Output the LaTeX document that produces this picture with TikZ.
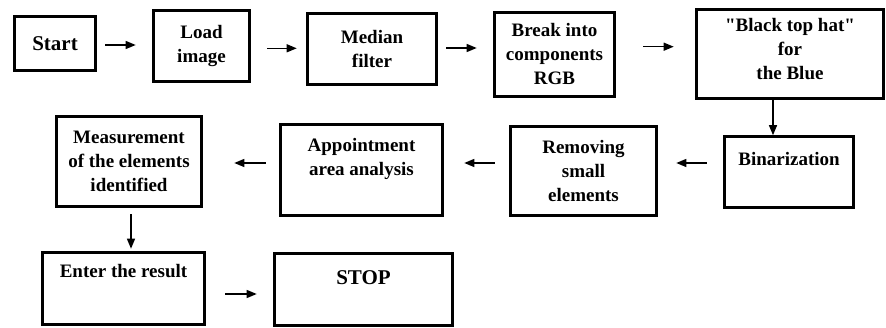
\documentclass[tikz,border=0pt]{standalone}
\usepackage{fontspec}
\setmainfont{Liberation Serif}
\usetikzlibrary {arrows.meta, positioning}
\tikzset{
    >={Triangle[length=10pt, width=8pt]},
    box/.style={draw, line width=2.6pt, align=center, inner sep=0pt,
        font=\bfseries\fontsize{19}{24}\selectfont},
    bigbox/.style={box, font=\bfseries\fontsize{21}{25}\selectfont},
    flow/.style={->, line width=1.3pt}
}

\begin{document}
\begin{tikzpicture}[x=1pt, y=-1pt]
    \useasboundingbox (0, 0) rectangle (886, 328);
    % first row
    \node[bigbox, minimum width=81, minimum height=54] (start) at (55, 43.5) {Start};
    \node[box, minimum width=96, minimum height=71] (load) at (201.5, 46) {Load\\image};
    \node[box, minimum width=129, minimum height=71] (median) at (372, 49) {Median\\filter};
    \node[box, minimum width=120, minimum height=84] (rgb) at (554.5, 54.5) {Break into\\components\\RGB};
    \node[box, minimum width=187, minimum height=89, text depth=10pt] (hat) at (790, 54)
        {\textquotedbl Black top hat\textquotedbl\\for\\the Blue};
    % second row
    \node[box, minimum width=129, minimum height=71, text depth=27pt] (bin) at (789, 172) {Binarization};
    \node[box, minimum width=146, minimum height=89] (small) at (583.5, 171) {Removing\\small\\elements};
    \node[box, minimum width=162, minimum height=91, text depth=27pt] (area) at (361.5, 170)
        {Appointment\\area analysis};
    \node[box, minimum width=145, minimum height=90] (measure) at (129, 161.5)
        {Measurement\\of the elements\\identified};
    % third row
    \node[box, minimum width=162, minimum height=72, text depth=36pt] (result) at (123.5, 288.5) {Enter the result};
    \node[bigbox, minimum width=178, minimum height=72, text depth=24pt] (stop) at (363.5, 289.5) {STOP};
    % arrows
    \draw[flow] ([xshift=8.5, yshift=-1.5]start.east) -- ([xshift=-16.5, yshift=-1.5]start.east -| load.west);
    \draw[flow] ([xshift=16.5, yshift=-2.3]load.east) -- ([xshift=-9.5, yshift=-2.3]load.east -| median.west);
    \draw[flow] ([xshift=8.5, yshift=1]median.east) -- ([xshift=-16.5, yshift=1]median.east -| rgb.west);
    \draw[flow] ([xshift=27.5, yshift=7.8]rgb.east) -- ([xshift=-21.5, yshift=7.8]rgb.east -| hat.west);
    \draw[flow] ([xshift=-17]hat.south) -- ([xshift=-16]bin.north);
    \draw[flow] ([xshift=-16.5, yshift=9]bin.west) -- ([xshift=18.5, yshift=9]bin.west -| small.east);
    \draw[flow] ([xshift=-14.5, yshift=8]small.west) -- ([xshift=20.5, yshift=8]small.west -| area.east);
    \draw[flow] ([xshift=-13.5, yshift=7]area.west) -- ([xshift=31.5, yshift=7]area.west -| measure.east);
    \draw[flow] ([xshift=2, yshift=-6.5]measure.south) -- ([xshift=7.5, yshift=2.5]result.north);
    \draw[flow] ([xshift=19.5, yshift=-5.5]result.east) -- ([xshift=-16.5, yshift=-5.5]result.east -| stop.west);
\end{tikzpicture}
\end{document}
